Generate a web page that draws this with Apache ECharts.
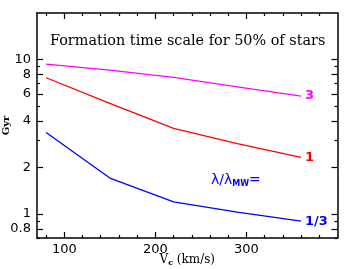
<!DOCTYPE html>
<html><head><meta charset="utf-8">
<script src="https://cdn.jsdelivr.net/npm/echarts@6/dist/echarts.min.js"></script>
<style>html,body{margin:0;padding:0;background:#fff}#c{width:359px;height:269px}</style>
</head><body><div id="c"></div>
<script>
const vc = [80, 150, 220, 290, 360];
const lam3 = [9.33, 8.55, 7.66, 6.65, 5.80];
const lam1 = [7.62, 5.2, 3.59, 2.86, 2.33];
const lam13 = [3.37, 1.71, 1.20, 1.03, 0.90];
const seriesNames = ['3', '1', '1/3'];
const seriesColors = ['#ff00ff', '#ff0000', '#0000ff'];
const xMajor = [100, 200, 300];
const xMinor = [80, 120, 140, 160, 180, 220, 240, 260, 280, 320, 340, 360, 380];
const yMajor = [0.8, 1, 2, 4, 6, 8, 10];
const yMinor = [0.7, 0.9, 3, 5, 7, 9];
const titleText = 'Formation time scale for 50% of stars';

const chart = echarts.init(document.getElementById('c'), null, {renderer: 'canvas'});
const lbl = {fontFamily: 'DejaVu Sans', fontSize: 13, color: '#000'};
function xAx(pos, vals, len, labels, line, extra) {
  return Object.assign({
    type: 'value', min: 70, max: 400, position: pos,
    axisLine: {show: line, onZero: false, lineStyle: {color: '#000', width: 1.5}},
    axisTick: {show: true, inside: true, length: len, customValues: vals, lineStyle: {color: '#000', width: 1.2}},
    axisLabel: labels ? Object.assign({show: true, customValues: vals, margin: 5}, lbl) : {show: false},
    splitLine: {show: false}
  }, extra || {});
}
function yAx(pos, vals, len, labels, line, extra) {
  return Object.assign({
    type: 'log', logBase: 10, min: 0.7, max: 20, position: pos,
    axisLine: {show: line, onZero: false, lineStyle: {color: '#000', width: 1.5}},
    axisTick: {show: true, inside: true, length: len, customValues: vals, lineStyle: {color: '#000', width: 1.2}},
    axisLabel: labels ? Object.assign({show: true, customValues: vals, margin: 6}, lbl) : {show: false},
    splitLine: {show: false}, minorTick: {show: false}
  }, extra || {});
}
const allData = [lam3, lam1, lam13];
const series = allData.map((arr, i) => ({
  type: 'line', name: seriesNames[i], xAxisIndex: 0, yAxisIndex: 0,
  showSymbol: false, symbol: 'none', animation: false,
  lineStyle: {color: seriesColors[i], width: 1.3},
  endLabel: {show: true, distance: 4, formatter: seriesNames[i],
    color: seriesColors[i], fontFamily: 'DejaVu Sans', fontSize: 13, fontWeight: 'bold'},
  data: arr.map((v, j) => [vc[j], v])
}));
chart.setOption({
  animation: false,
  grid: {left: 37, right: 21.5, top: 13, bottom: 31, containLabel: false, outerBoundsMode: 'none'},
  title: {text: titleText, left: 50, top: 34, padding: 0,
    textStyle: {fontFamily: 'DejaVu Serif', fontSize: 14.4, fontWeight: 'normal', color: '#000'}},
  xAxis: [
    xAx('bottom', xMajor, 6, true, true, {
      name: '{v|V}{s|c}{v| (km/s)}', nameLocation: 'middle', nameGap: 15, nameMoveOverlap: false,
      nameTextStyle: {rich: {
        v: {fontFamily: 'DejaVu Serif', fontSize: 12, color: '#000'},
        s: {fontFamily: 'DejaVu Serif', fontSize: 8, color: '#000', fontWeight: 'bold', padding: [6, 0, 0, 0]}
      }}
    }),
    xAx('bottom', xMinor, 3, false, false),
    xAx('top', xMajor, 6, false, true),
    xAx('top', xMinor, 3, false, false)
  ],
  yAxis: [
    yAx('left', yMajor, 6, true, true, {
      name: 'Gyr', nameLocation: 'middle', nameGap: 26, nameRotate: 90, nameMoveOverlap: false,
      nameTextStyle: {fontFamily: 'DejaVu Serif', fontSize: 10, fontWeight: 'bold', color: '#000'}
    }),
    yAx('left', yMinor, 3, false, false),
    yAx('right', yMajor, 6, false, true),
    yAx('right', yMinor, 3, false, false)
  ],
  graphic: [{
    type: 'text', left: 211, top: 173,
    style: {
      text: '{a|λ/λ}{s|MW}{a|=}',
      rich: {
        a: {fontFamily: 'DejaVu Sans', fontSize: 14, fill: '#0000ff', color: '#0000ff'},
        s: {fontFamily: 'DejaVu Sans', fontSize: 8, fontWeight: 'bold', fill: '#0000ff', color: '#0000ff', padding: [7, 0, 0, 0]}
      }
    }
  }],
  series: series
});
</script>
</body></html>
